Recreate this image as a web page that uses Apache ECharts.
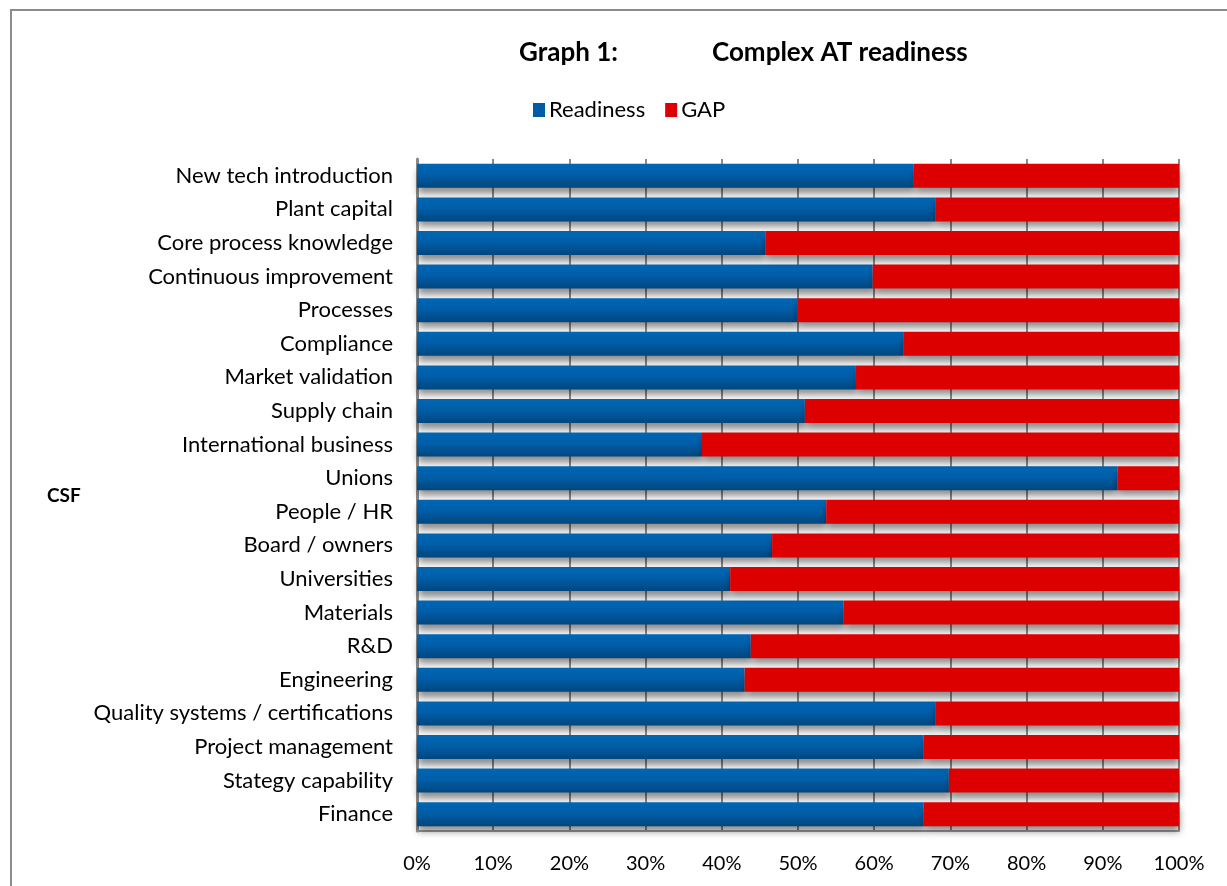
<!DOCTYPE html>
<html>
<head>
<meta charset="utf-8">
<script src="https://cdn.jsdelivr.net/npm/echarts@6/dist/echarts.min.js"></script>
<style>
  html, body { margin: 0; padding: 0; background: #fff; }
  #chart { width: 1227px; height: 886px; }
</style>
</head>
<body>
<div id="chart"></div>
<script>
// Critical success factors, listed top to bottom
const categories = [
  'New tech introduction', 'Plant capital', 'Core process knowledge',
  'Continuous improvement', 'Processes', 'Compliance', 'Market validation',
  'Supply chain', 'International business', 'Unions', 'People / HR',
  'Board / owners', 'Universities', 'Materials', 'R&D', 'Engineering',
  'Quality systems / certifications', 'Project management',
  'Stategy capability', 'Finance'
];

// Share of each factor already in place (%)
const readiness = [65.2, 68.0, 45.7, 59.8, 49.9, 63.8, 57.6, 50.9, 37.4, 91.9,
                   53.7, 46.6, 41.1, 56.0, 43.8, 43.0, 68.0, 66.5, 69.8, 66.5];

// Remaining gap to full readiness (%)
const gap = [34.8, 32.0, 54.3, 40.2, 50.1, 36.2, 42.4, 49.1, 62.6, 8.1,
             46.3, 53.4, 58.9, 44.0, 56.2, 57.0, 32.0, 33.5, 30.2, 33.5];

const xTicks = [0, 10, 20, 30, 40, 50, 60, 70, 80, 90, 100];

const FONT = 'Lato, "Liberation Sans", sans-serif';

const chart = echarts.init(document.getElementById('chart'), null, { renderer: 'canvas' });

const barShadow = {
  shadowColor: 'rgba(0,0,0,0.45)',
  shadowBlur: 7,
  shadowOffsetY: 6,
  shadowOffsetX: 1
};

chart.setOption({
  backgroundColor: '#ffffff',
  animation: false,
  title: [
    { text: 'Graph 1:', left: 514, top: 35,
      textStyle: { fontFamily: FONT, fontSize: 26, fontWeight: 'bold', color: '#000' } },
    { text: 'Complex AT readiness', left: 707, top: 35,
      textStyle: { fontFamily: FONT, fontSize: 26, fontWeight: 'bold', color: '#000' } }
  ],
  legend: {
    left: 528,
    top: 94,
    itemWidth: 12,
    itemHeight: 14,
    itemGap: 20,
    icon: 'rect',
    textStyle: { fontFamily: FONT, fontSize: 22, color: '#000', padding: [0, 0, 0, -1] },
    data: [
      { name: 'Readiness', itemStyle: { color: '#005ca5' } },
      { name: 'GAP', itemStyle: { color: '#dd0000' } }
    ]
  },
  graphic: [
    // outer chart frame (left and top edges)
    { type: 'line', shape: { x1: 11, y1: 10, x2: 11, y2: 886 },
      style: { stroke: '#8c8c8c', lineWidth: 2 }, silent: true },
    { type: 'line', shape: { x1: 10, y1: 10, x2: 1227, y2: 10 },
      style: { stroke: '#8c8c8c', lineWidth: 2 }, silent: true },
    // vertical axis title
    { type: 'text', left: 47, top: 486,
      style: { text: 'CSF', fontFamily: FONT, fontSize: 19, fontWeight: 'bold', fill: '#000' } }
  ],
  grid: { left: 417, right: 48, top: 159, bottom: 55, containLabel: false },
  xAxis: {
    type: 'value',
    min: 0,
    max: 100,
    interval: 10,
    axisLine: { show: true, lineStyle: { color: '#9a9a9a', width: 2 } },
    axisTick: { show: false },
    splitLine: { show: true, lineStyle: { color: '#8a8a8a', width: 2 } },
    axisLabel: {
      margin: 23,
      fontFamily: FONT, fontSize: 20, color: '#000',
      formatter: v => xTicks.includes(v) ? v + '%' : ''
    }
  },
  yAxis: {
    type: 'category',
    data: categories,
    inverse: true,
    axisLine: { show: true, lineStyle: { color: '#8a8a8a', width: 3 } },
    axisTick: { show: false },
    axisLabel: { margin: 24, fontFamily: FONT, fontSize: 22, color: '#000' }
  },
  series: [
    {
      name: 'Readiness',
      type: 'bar',
      stack: 'total',
      barWidth: 24,
      data: readiness,
      itemStyle: Object.assign({
        color: new echarts.graphic.LinearGradient(0, 0, 0, 1, [
          { offset: 0, color: '#0066b4' },
          { offset: 0.45, color: '#005ea8' },
          { offset: 1, color: '#00467e' }
        ])
      }, barShadow)
    },
    {
      name: 'GAP',
      type: 'bar',
      stack: 'total',
      barWidth: 24,
      data: gap,
      itemStyle: Object.assign({ color: '#dd0000' }, barShadow)
    }
  ]
});
</script>
</body>
</html>
